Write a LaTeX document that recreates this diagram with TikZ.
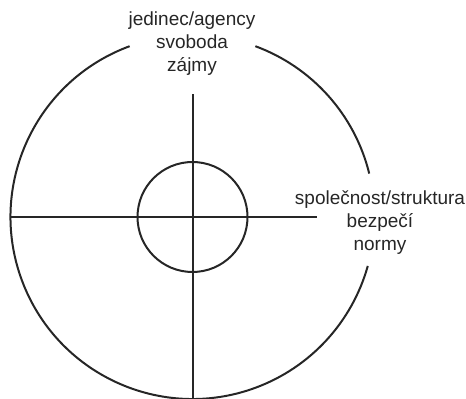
\documentclass[tikz,border=0pt]{standalone}
\usepackage{fontspec}
\setmainfont{Liberation Sans}
\usetikzlibrary{positioning}

\begin{document}
\begin{tikzpicture}[x=1pt,y=1pt,line width=2pt,color=black!85,
    label text/.style={align=center,inner sep=0pt,font=\fontsize{19}{23}\selectfont}]
    \useasboundingbox (0,0) rectangle (466,399);
    % 中心
    \coordinate (O) at (192.5,182);
    \coordinate (W) at (10.5,182);
    \coordinate (E) at (317.3,182);
    \coordinate (N) at (192.5,304.7);
    \coordinate (S) at (192.5,0);
    
    % 外圆（留两个缺口）
    \draw ([shift={(110.2:182)}]O) arc[start angle=110.2, end angle=344.4, radius=182];
    \draw ([shift={(13.8:182)}]O) arc[start angle=13.8, end angle=69.8, radius=182];
    
    % 内圆
    \draw (O) circle[radius=55];
    
    % 十字线
    \draw (W) -- (E);
    \draw (N) -- (S);
    
    % 标注
    \node[label text] (top) at (192,355) {jedinec/agency\\svoboda\\zájmy};
    \node[label text] (right) at (380,176.5) {společnost/struktura\\bezpečí\\normy};
\end{tikzpicture}
\end{document}
